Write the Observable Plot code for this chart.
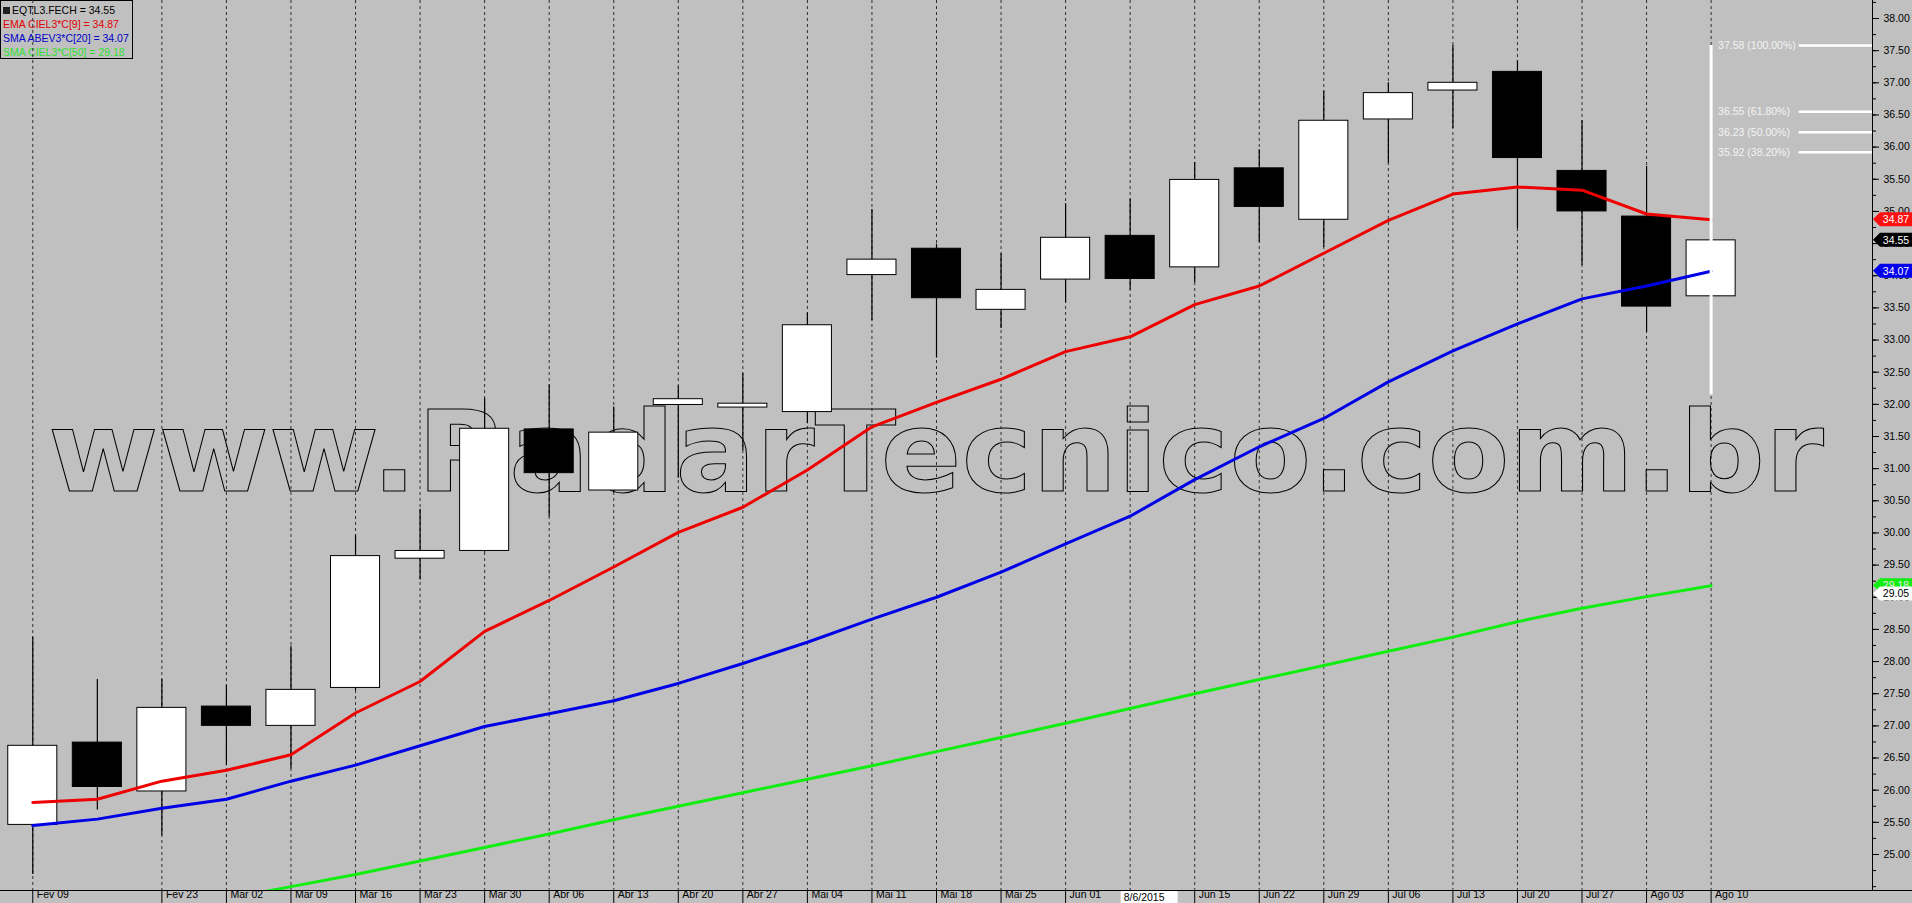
<!DOCTYPE html>
<html><head><meta charset="utf-8">
<script src="https://cdn.jsdelivr.net/npm/d3@7"></script>
<script src="https://cdn.jsdelivr.net/npm/@observablehq/plot@0.6"></script>
<style>
html,body{margin:0;padding:0;background:#c0c0c0;overflow:hidden;}
#chart svg{display:block;}
</style></head><body><div id="chart"></div>
<script>
// ---- data ----
const weeks = ["Fev 09","Fev 16","Fev 23","Mar 02","Mar 09","Mar 16","Mar 23","Mar 30","Abr 06","Abr 13","Abr 20","Abr 27","Mai 04","Mai 11","Mai 18","Mai 25","Jun 01","Jun 08","Jun 15","Jun 22","Jun 29","Jul 06","Jul 13","Jul 20","Jul 27","Ago 03","Ago 10"];
const labeledWeeks = ["Fev 09","Fev 23","Mar 02","Mar 09","Mar 16","Mar 23","Mar 30","Abr 06","Abr 13","Abr 20","Abr 27","Mai 04","Mai 11","Mai 18","Mai 25","Jun 01","Jun 08","Jun 15","Jun 22","Jun 29","Jul 06","Jul 13","Jul 20","Jul 27","Ago 03","Ago 10"];
const highlightWeek = "Jun 08";
const highlightLabel = "8/6/2015";
const open  = [25.46,26.74,25.98,27.30,27.00,27.59,29.60,29.72,31.61,30.66,31.99,31.95,31.88,34.01,34.42,33.47,33.94,34.62,34.13,35.67,34.87,36.43,36.88,37.17,35.63,34.92,33.68];
const close = [26.69,26.05,27.28,27.00,27.56,29.64,29.72,31.62,30.93,31.56,32.08,32.01,33.23,34.25,33.65,33.78,34.59,33.95,35.49,35.07,36.41,36.84,37.00,35.83,35.00,33.52,34.55];
const high  = [28.38,27.72,27.72,27.63,28.24,29.97,30.37,32.09,32.30,31.96,32.28,32.48,33.42,35.03,34.49,34.34,35.12,35.19,35.76,35.96,36.87,37.00,37.58,37.34,36.41,35.70,34.70];
const low   = [24.69,25.69,25.29,26.38,26.33,27.55,29.27,29.70,30.25,30.62,30.85,31.28,31.70,33.30,32.72,33.18,33.58,33.78,33.89,34.52,34.44,35.75,36.29,34.73,34.16,33.12,33.60];
const ema9  = [25.81,25.86,26.14,26.31,26.55,27.20,27.69,28.47,28.95,29.47,30.01,30.40,30.98,31.65,32.03,32.39,32.82,33.05,33.55,33.84,34.35,34.86,35.27,35.38,35.33,34.96,34.87];
const sma20 = [25.45,25.55,25.72,25.86,26.14,26.39,26.69,26.99,27.19,27.39,27.66,27.97,28.30,28.66,29.00,29.39,29.83,30.26,30.83,31.34,31.78,32.35,32.83,33.25,33.64,33.84,34.07];
const sma50 = [23.62,23.83,24.05,24.31,24.50,24.69,24.90,25.11,25.32,25.54,25.75,25.96,26.17,26.38,26.60,26.82,27.04,27.27,27.50,27.72,27.94,28.16,28.38,28.62,28.83,29.01,29.18];
const fibLevels = [37.58, 36.55, 36.23, 35.92];
const fibPct = ["100.00%", "61.80%", "50.00%", "38.20%"];
const fibLow = 32.15;
const legendNames = ["EQTL3.FECH", "EMA CIEL3*C[9]", "SMA ABEV3*C[20]", "SMA CIEL3*C[50]"];
const legendValues = [34.55, 34.87, 34.07, 29.18];
const legendColors = ["#000000", "#e00000", "#0000c8", "#30e030"];
const badgeValues = [34.87, 34.55, 34.07, 29.18, 29.05];
const badgeFills  = ["#ff1010", "#000000", "#0000ee", "#10ee10", "#ffffff"];
const badgeText   = ["#ffffff", "#ffffff", "#ffffff", "#e8e8e8", "#000000"];
const watermarkText = "www.RadarTecnico.com.br";

// ---- derived tables ----
const rows = weeks.map((w, i) => ({i, w, open: open[i], close: close[i], high: high[i], low: low[i]}));
const gridIdx = weeks.map((w, i) => i).filter(i => labeledWeeks.includes(weeks[i]));
const labelIdx = gridIdx.filter(i => weeks[i] !== highlightWeek);
const hiIdx = weeks.indexOf(highlightWeek);
const lastIdx = weeks.length - 1;
const series = (arr) => arr.map((v, i) => ({i, v}));
const X_DOMAIN = [-0.5, 28.5];
const Y_DOMAIN = [24.44, 38.28];
const majorTicks = d3.range(25, 38.001, 0.5);
const minorTicks = d3.range(24.5, 38.3, 0.25);
const FONT = "'Liberation Sans', Arial, sans-serif";

function legendMark(index, scales, values, dims) {
  const g = d3.create("svg:g").attr("font-family", FONT).attr("font-size", 10.5).attr("text-anchor", "start");
  g.append("rect").attr("x", 0.5).attr("y", 0.5).attr("width", 132).attr("height", 58)
    .attr("fill", "none").attr("stroke", "black");
  g.append("rect").attr("x", 3).attr("y", 7).attr("width", 7).attr("height", 7).attr("fill", "#202020");
  legendNames.forEach((n, k) => {
    g.append("text").attr("x", k === 0 ? 12 : 3).attr("y", 14 + 14 * k).attr("text-anchor", "start")
      .attr("fill", legendColors[k]).text(`${n} = ${legendValues[k].toFixed(2)}`);
  });
  return g.node();
}

function watermarkMark(index, scales, values, dims) {
  const x0 = scales.x(X_DOMAIN[0]) + 48;
  return d3.create("svg:text")
    .attr("x", x0).attr("y", 491).attr("text-anchor", "start")
    .attr("textLength", 1776).attr("lengthAdjust", "spacingAndGlyphs")
    .style("font-family", "'DejaVu Sans', sans-serif").style("font-weight", "900")
    .style("font-size", "112px").attr("fill", "none").attr("stroke", "#000").attr("stroke-width", 1)
    .text(watermarkText).node();
}

function frameLines(index, scales, values, dims) {
  const g = d3.create("svg:g").attr("stroke", "black").attr("stroke-width", 1);
  const yb = dims.height - dims.marginBottom + 0.5;
  g.append("line").attr("x1", 0).attr("x2", dims.width).attr("y1", yb).attr("y2", yb);
  const xr = dims.width - dims.marginRight + 0.5;
  g.append("line").attr("x1", xr).attr("x2", xr).attr("y1", 0).attr("y2", yb);
  return g.node();
}

function dateBox(index, scales, values, dims) {
  const g = d3.create("svg:g").attr("text-anchor", "start");
  const x = scales.x(hiIdx);
  const yb = dims.height - dims.marginBottom;
  g.append("rect").attr("x", x - 9).attr("y", yb + 1).attr("width", 57).attr("height", dims.marginBottom - 1).attr("fill", "white");
  g.append("text").attr("x", x - 6).attr("y", yb + 7).attr("dy", "0.35em").attr("text-anchor", "start")
    .attr("font-family", FONT).attr("font-size", 10.5).attr("fill", "black").text(highlightLabel);
  return g.node();
}

function badges(index, scales, values, dims) {
  const g = d3.create("svg:g").attr("font-family", FONT).attr("font-size", 10.5);
  const x0 = dims.width - dims.marginRight + 1;
  const x1 = dims.width;
  badgeValues.forEach((v, k) => {
    const y = scales.y(v);
    g.append("path")
      .attr("d", `M${x0},${y} L${x0 + 7},${y - 7} L${x1},${y - 7} L${x1},${y + 7} L${x0 + 7},${y + 7} Z`)
      .attr("fill", badgeFills[k]);
    g.append("text").attr("x", x0 + 23).attr("y", y).attr("dy", "0.36em").attr("text-anchor", "middle")
      .attr("fill", badgeText[k]).text(v.toFixed(2));
  });
  return g.node();
}

const chart = Plot.plot({
  width: 1912, height: 903,
  marginLeft: 0, marginRight: 40, marginTop: 0, marginBottom: 13,
  x: {domain: X_DOMAIN, axis: null},
  y: {domain: Y_DOMAIN, axis: null},
  color: {type: "identity"},
  style: {background: "#c0c0c0", fontFamily: FONT, fontSize: "10.5px", color: "black"},
  marks: [
    legendMark,
    Plot.ruleX(gridIdx, {x: d => d, stroke: "#303030", strokeDasharray: "3,3", strokeWidth: 1}),
    watermarkMark,
    Plot.ruleX(rows, {x: "i", y1: "low", y2: "high", stroke: "black", strokeWidth: 1.2}),
    Plot.rect(rows, {x1: d => d.i - 0.38, x2: d => d.i + 0.38, y1: "open", y2: "close",
      fill: d => d.close >= d.open ? "white" : "black", stroke: "black", strokeWidth: 1}),
    Plot.line(series(sma50), {x: "i", y: "v", stroke: "#10ee10", strokeWidth: 3, clip: true}),
    Plot.line(series(sma20), {x: "i", y: "v", stroke: "#0000e6", strokeWidth: 3, clip: true}),
    Plot.line(series(ema9), {x: "i", y: "v", stroke: "#ee0000", strokeWidth: 3, clip: true}),
    Plot.ruleX([lastIdx], {x: d => d, y1: fibLevels[0], y2: fibLow, stroke: "white", strokeWidth: 3}),
    Plot.ruleY(fibLevels, {y: d => d, x1: 27.38, x2: 28.5, stroke: "white", strokeWidth: 2.5, strokeLinecap: "round"}),
    Plot.text(fibLevels, {x: lastIdx, y: d => d, dx: 7, text: (d, i) => `${d.toFixed(2)} (${fibPct[i]})`,
      textAnchor: "start", fill: "#f4f4f4", fontSize: 10.5}),
    Plot.axisY(minorTicks, {anchor: "right", tickSize: 3, tickFormat: () => "", label: null}),
    Plot.axisY(majorTicks, {anchor: "right", tickSize: 6, tickPadding: 5, tickFormat: d => d.toFixed(2), label: null, fontSize: 10.5, fill: "black"}),
    Plot.axisX(gridIdx, {anchor: "bottom", tickSize: 13, tickFormat: () => "", label: null}),
    Plot.text(labelIdx, {x: d => d, text: d => weeks[d], frameAnchor: "bottom", dy: 7, dx: 4, textAnchor: "start", fontSize: 10.5, fill: "black"}),
    frameLines,
    dateBox,
    badges
  ]
});
document.getElementById("chart").appendChild(chart);
</script>
</body></html>
